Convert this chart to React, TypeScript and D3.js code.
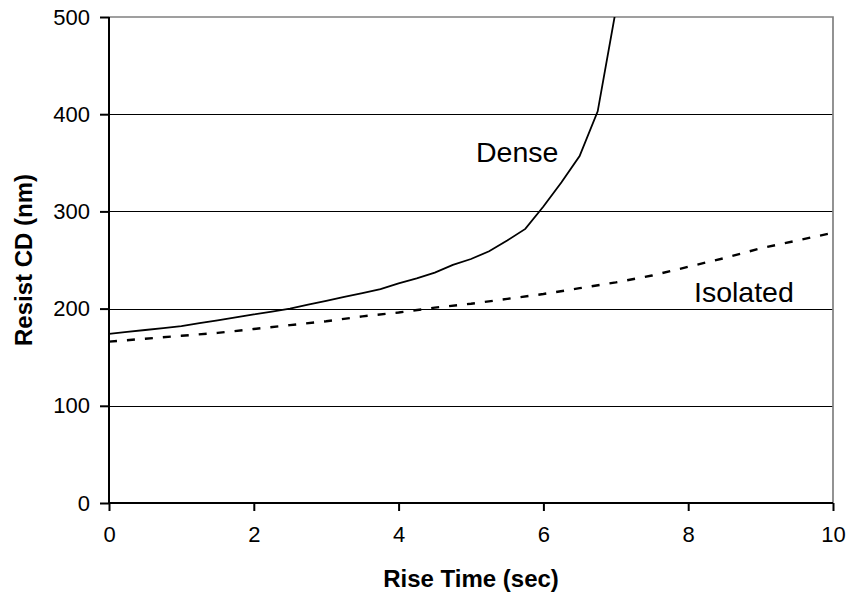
import React, { useEffect, useRef } from "react";
import * as d3 from "d3";

// rise time (sec) for each curve
const denseTime = [0, 0.25, 0.5, 0.75, 1, 1.25, 1.5, 1.75, 2, 2.25, 2.5, 2.75, 3, 3.25, 3.5, 3.75, 4, 4.25, 4.5, 4.75, 5, 5.25, 5.5, 5.75, 6, 6.25, 6.5, 6.75, 7];
const denseCD = [174, 176, 178, 180, 182, 185, 188, 191, 194, 197, 200, 204, 208, 212, 216, 220, 226, 231, 237, 245, 251, 259, 270, 282, 305, 330, 357, 403, 507];

const isoTime = [0, 0.5, 1, 1.5, 2, 2.5, 3, 3.5, 4, 4.5, 5, 5.5, 6, 6.5, 7, 7.5, 8, 8.5, 9, 9.5, 10];
const isoCD = [166, 169, 172, 175, 179, 183, 187, 192, 196, 201, 205, 210, 215, 221, 227, 234, 243, 252, 262, 270, 278];

const xTicks = [0, 2, 4, 6, 8, 10];
const yTicks = [0, 100, 200, 300, 400, 500];

const W = 850, H = 601;
const margin = { top: 17, right: 17, bottom: 98, left: 109 };
const font = "'Liberation Sans', Arial, sans-serif";

export default function App() {
  const ref = useRef<SVGSVGElement>(null);

  useEffect(() => {
    const svg = d3.select(ref.current);
    svg.selectAll("*").remove();

    const w = W - margin.left - margin.right;
    const h = H - margin.top - margin.bottom;

    const x = d3.scaleLinear().domain([0, 10]).range([margin.left, margin.left + w]);
    const y = d3.scaleLinear().domain([0, 500]).range([margin.top + h, margin.top]);

    svg.append("defs").append("clipPath").attr("id", "plot")
      .append("rect")
      .attr("x", margin.left).attr("y", margin.top)
      .attr("width", w).attr("height", h);

    // gridlines, snapped to whole pixels so they stay crisp
    svg.append("g")
      .selectAll("line")
      .data(yTicks.filter(d => d > 0 && d < 500))
      .join("line")
      .attr("x1", x(0)).attr("x2", x(10))
      .attr("y1", d => Math.round(y(d)) + 0.5).attr("y2", d => Math.round(y(d)) + 0.5)
      .attr("stroke", "#000").attr("stroke-width", 1)
      .attr("shape-rendering", "crispEdges");

    // top + right border
    svg.append("path")
      .attr("d", `M${x(0)},${y(500)}H${x(10)}V${y(0)}`)
      .attr("fill", "none").attr("stroke", "#808080").attr("stroke-width", 1.7);

    // y axis
    const yAxis = svg.append("g")
      .attr("transform", `translate(${x(0)},0)`)
      .call(d3.axisLeft(y).tickValues(yTicks).tickSize(9).tickPadding(10).tickSizeOuter(0));
    yAxis.select(".domain").attr("stroke-width", 2).attr("d", `M0,${y(500)}V${y(0)}`);
    yAxis.selectAll(".tick line").attr("stroke-width", 2);
    yAxis.selectAll("text").attr("font-family", font).attr("font-size", 22).attr("fill", "#000");

    // x axis
    const xAxis = svg.append("g")
      .attr("transform", `translate(0,${y(0)})`)
      .call(d3.axisBottom(x).tickValues(xTicks).tickSize(8).tickPadding(15).tickSizeOuter(0));
    xAxis.select(".domain").attr("stroke-width", 2).attr("d", `M${x(0)},0H${x(10)}`);
    xAxis.selectAll(".tick line").attr("stroke-width", 2);
    xAxis.selectAll("text").attr("font-family", font).attr("font-size", 22).attr("fill", "#000");

    const line = d3.line<[number, number]>()
      .x(d => x(d[0]))
      .y(d => y(d[1]));

    const plot = svg.append("g").attr("clip-path", "url(#plot)");

    plot.append("path")
      .datum(isoTime.map((t, i) => [t, isoCD[i]] as [number, number]))
      .attr("d", line)
      .attr("fill", "none").attr("stroke", "#000")
      .attr("stroke-width", 2.4).attr("stroke-dasharray", "8,10");

    plot.append("path")
      .datum(denseTime.map((t, i) => [t, denseCD[i]] as [number, number]))
      .attr("d", line)
      .attr("fill", "none").attr("stroke", "#000").attr("stroke-width", 1.8);

    // labels
    svg.append("text")
      .attr("x", 476).attr("y", 161.5)
      .attr("font-family", font).attr("font-size", 28.5)
      .text("Dense");
    svg.append("text")
      .attr("x", 694).attr("y", 301.5)
      .attr("font-family", font).attr("font-size", 28.5)
      .text("Isolated");

    svg.append("text")
      .attr("x", (x(0) + x(10)) / 2).attr("y", 587)
      .attr("text-anchor", "middle")
      .attr("font-family", font).attr("font-size", 24).attr("font-weight", "bold")
      .text("Rise Time (sec)");
    svg.append("text")
      .attr("transform", `translate(32,${(y(0) + y(500)) / 2}) rotate(-90)`)
      .attr("text-anchor", "middle")
      .attr("font-family", font).attr("font-size", 24).attr("font-weight", "bold")
      .text("Resist CD (nm)");
  }, []);

  return (
    <svg ref={ref} width={W} height={H}
      style={{ position: "absolute", left: 0, top: 0, background: "#fff" }} />
  );
}
